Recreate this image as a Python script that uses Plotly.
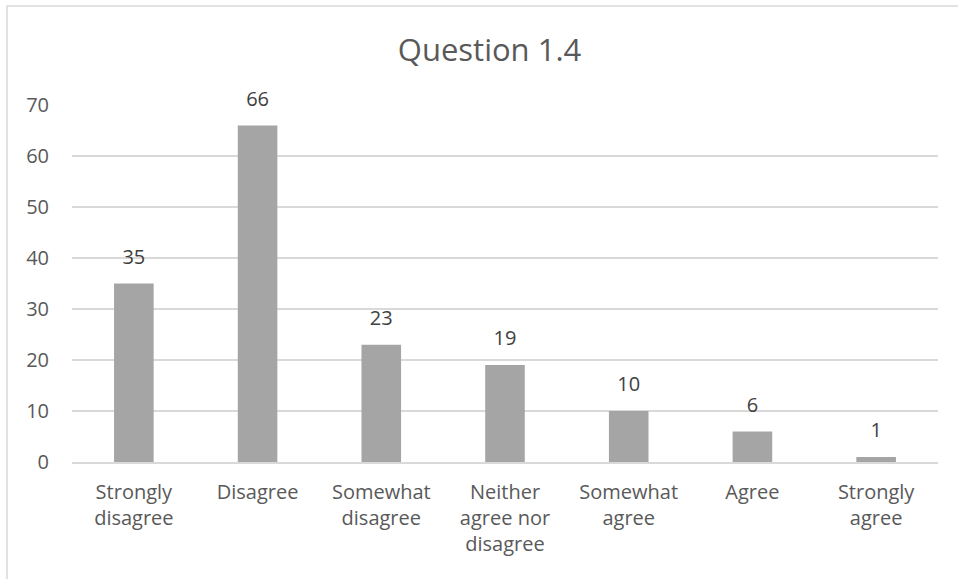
import plotly.graph_objects as go

categories = ["Strongly disagree", "Disagree", "Somewhat disagree",
              "Neither agree nor disagree", "Somewhat agree", "Agree", "Strongly agree"]
tick_labels = ["Strongly<br>disagree", "Disagree", "Somewhat<br>disagree",
               "Neither<br>agree nor<br>disagree", "Somewhat<br>agree", "Agree", "Strongly<br>agree"]
values = [35, 66, 23, 19, 10, 6, 1]
y_ticks = [0, 10, 20, 30, 40, 50, 60, 70]

FONT = "Open Sans"
TXT = "#595959"

fig = go.Figure()
fig.add_trace(go.Bar(
    x=categories, y=values,
    marker=dict(color="#A5A5A5", line=dict(width=0)),
    hoverinfo="x+y",
))
# data labels, offset above the bar tops
fig.add_trace(go.Scatter(
    x=categories, y=values, mode="markers+text",
    marker=dict(size=22, opacity=0),
    text=[str(v) for v in values], textposition="top center",
    textfont=dict(family=FONT, size=20, color="#404040"),
    cliponaxis=False, hoverinfo="skip",
))

fig.update_layout(
    width=958, height=579,
    margin=dict(l=72, r=20, t=105, b=117),
    paper_bgcolor="white", plot_bgcolor="white",
    bargap=0.68,
    showlegend=False,
    title=dict(text="Question 1.4", x=0.511, xanchor="center", y=0.914, yanchor="middle",
               font=dict(family=FONT, size=31, color=TXT)),
    font=dict(family=FONT, color=TXT),
    xaxis=dict(tickmode="array", tickvals=categories, ticktext=tick_labels,
               tickfont=dict(family=FONT, size=20, color=TXT),
               showgrid=False, showline=True, linecolor="#D9D9D9", linewidth=1.5,
               ticks="", ticklen=0, ticklabelstandoff=11),
    yaxis=dict(range=[0, 70], tickvals=y_ticks, showgrid=True, gridcolor="#D9D9D9", gridwidth=1.5,
               zeroline=False, showline=False, ticks="",
               tickfont=dict(family=FONT, size=20, color=TXT), ticklabelstandoff=22),
    shapes=[dict(type="rect", xref="paper", yref="paper",
                 x0=(7 - 72) / 866, x1=(975 - 72) / 866,
                 y0=(462 - 600) / 357, y1=(462 - 6) / 357,
                 line=dict(color="#D9D9D9", width=1.5), fillcolor="rgba(0,0,0,0)", layer="below")],
)

fig.write_html("out.html", config={"displayModeBar": False},
               post_script="document.body.style.margin='0';")
